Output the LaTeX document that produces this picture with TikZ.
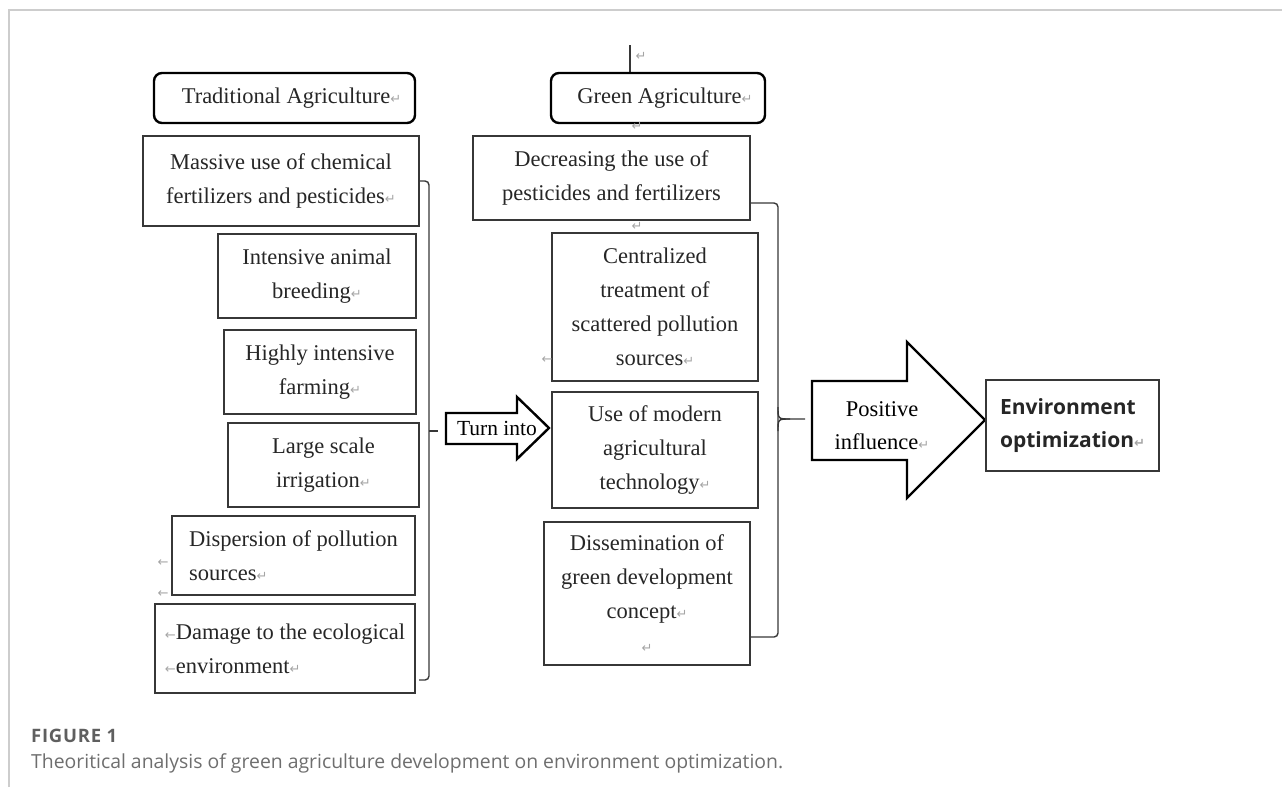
\documentclass[tikz,border=0pt]{standalone}
\usepackage{fontspec}
\setmainfont{Liberation Serif}
\newfontfamily\capfont{Open Sans}
\newfontfamily\envfont{Open Sans}
\newfontfamily\markfont{DejaVu Sans}
\definecolor{framegray}{RGB}{205, 205, 205}
\definecolor{capgray}{RGB}{95, 95, 95}
\definecolor{txtgray}{RGB}{110, 110, 110}
\definecolor{markgray}{RGB}{165, 165, 165}
\definecolor{linegray}{RGB}{55, 55, 55}
\newcommand{\pmark}{{\markfont\fontsize{13}{13}\selectfont\color{markgray}↵}}
\newcommand{\lmark}{{\markfont\fontsize{13}{13}\selectfont\color{markgray}←}}

\begin{document}
\begin{tikzpicture}[
  x=1pt, y=-1pt,
  box/.style={draw=linegray, line width=1.3pt, inner sep=0pt, align=center, text=black!85, font=\fontsize{22.5}{34}\selectfont},
  headbox/.style={box, draw=black, line width=2.4pt, rounded corners=8pt},
  brace/.style={draw=linegray, line width=1.4pt, rounded corners=4pt},
  bigarrow/.style={draw=black, line width=2.4pt, line join=miter},
  pmk/.style={inner sep=0pt}
]
  \useasboundingbox (0,0) rectangle (1282,787);

  % Frame
  \draw[framegray, line width=1.5pt] (9,787) -- (9,10) -- (1282,10);

  % Traditional column
  \node[headbox, minimum width=261pt, minimum height=50pt] (trad) at (284.5,98) {\hspace{14pt}Traditional Agriculture\pmark};
  \node[box, minimum width=276pt, minimum height=90pt] (massive) at (281,181) {Massive use of chemical\\fertilizers and pesticides\pmark};
  \node[box, minimum width=198pt, minimum height=84pt] (animal) at (317,276) {Intensive animal\\breeding\pmark};
  \node[box, minimum width=192pt, minimum height=84pt] (farming) at (320,372) {Highly intensive\\farming\pmark};
  \node[box, minimum width=191pt, minimum height=84pt] (irrig) at (323.5,465) {Large scale\\irrigation\pmark};
  \node[box, minimum width=243pt, minimum height=79pt, align=left] (disp) at (293.5,555.5) {Dispersion of pollution\\sources\pmark};
  \node[box, minimum width=260pt, minimum height=89pt, align=left] (damage) at (285,648.5) {\lmark Damage to the ecological\\\lmark environment\pmark};

  % Green column
  \coordinate (gtop) at (630,45);
  \draw[linegray, line width=1.3pt] (gtop) -- (gtop |- 0,73);
  \node[headbox, minimum width=214pt, minimum height=50pt] (green) at (658,98) {\hspace{14pt}Green Agriculture\pmark};
  \node[box, minimum width=277pt, minimum height=84pt] (decr) at (611.5,178) {Decreasing the use of\\pesticides and fertilizers};
  \node[box, minimum width=206pt, minimum height=148pt] (central) at (655,307) {Centralized\\treatment of\\scattered pollution\\sources\pmark};
  \node[box, minimum width=206pt, minimum height=116pt] (modern) at (655,450) {Use of modern\\agricultural\\technology\pmark};
  \node[box, minimum width=206pt, minimum height=143pt] (dissem) at (647,593.5) {Dissemination of\\green development\\concept\pmark\\\pmark};

  % Stray paragraph marks
  \foreach \mx/\my/\mk [count=\i] in {641/56/\pmark, 637/126/\pmark, 637/226/\pmark, 547/360/\lmark, 163/563/\lmark, 163/594/\lmark}
    \node[pmk] (mk\i) at (\mx,\my) {\mk};

  % Left brace
  \coordinate (lbot) at (429,680);
  \coordinate (ltick) at (438,431);
  \draw[brace] (massive.east) -| (lbot) -- (lbot -| 419,0);
  \draw[brace] (lbot |- ltick) -- (ltick);

  % Turn into
  \draw[bigarrow] (446,413) -- (517,413) -- (517,397) -- (549,428) -- (517,459) -- (517,444) -- (446,444) -- cycle;
  \node[inner sep=0pt, font=\fontsize{21.5}{21.5}\selectfont] (turn) at (497,428) {Turn into};

  % Right brace
  \coordinate (rtop) at (778,203);
  \coordinate (rbot) at (778,637);
  \coordinate (rtip) at (805,419);
  \draw[brace] (rtop -| decr.east) -- (rtop) -- (rbot) -- (rbot -| dissem.east);
  \draw[brace, rounded corners=0pt] (778,407) .. controls (778,419) .. (790,419) -- (rtip);
  \draw[brace, rounded corners=0pt] (778,431) .. controls (778,419) .. (790,419);

  % Positive influence
  \draw[bigarrow] (812,381) -- (907,381) -- (907,342) -- (985,420) -- (907,498) -- (907,460) -- (812,460) -- cycle;
  \node[inner sep=0pt, align=center, font=\fontsize{22.5}{33}\selectfont] (pos) at (882,426) {Positive\\influence\pmark};

  \node[box, minimum width=173pt, minimum height=91pt, align=left, font=\envfont\bfseries\fontsize{21}{33}\selectfont] (env) at (1072.5,425.5) {Environment\\optimization\pmark};

  % Caption
  \node[anchor=west, inner sep=0pt, text=capgray, font=\capfont\bfseries\fontsize{18.5}{18.5}\selectfont\addfontfeatures{LetterSpace=4}] (fig) at (31,736) {FIGURE 1};
  \node[anchor=west, inner sep=0pt, text=txtgray, font=\capfont\fontsize{19.4}{19.4}\selectfont] (cap) at (31,763) {Theoritical analysis of green agriculture development on environment optimization.};
\end{tikzpicture}
\end{document}
